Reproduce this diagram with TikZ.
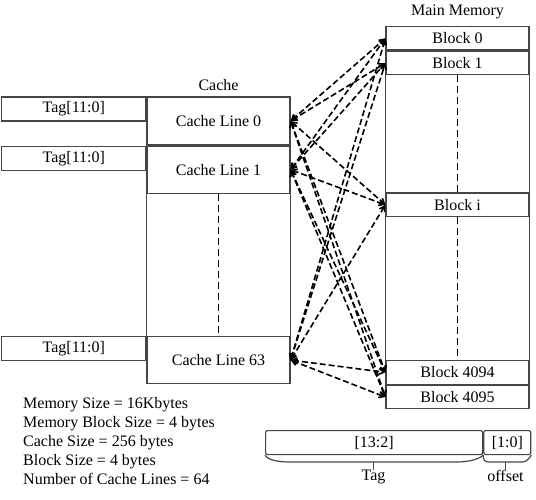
\documentclass[tikz,border=0pt]{standalone}
\usepackage{fontspec}
\setmainfont{Liberation Serif}
\usetikzlibrary{arrows.meta,positioning}
\definecolor{BoxGray}{RGB}{70,70,70}

\begin{document}
\begin{tikzpicture}[
  x=1pt, y=-1pt,
  node distance=0pt,
  cline/.style={rectangle, draw=BoxGray, line width=1.2pt, minimum width=143pt, minimum height=47pt,
                font=\fontsize{16}{18}\selectfont, inner sep=0pt},
  tagbox/.style={rectangle, draw=BoxGray, line width=1.2pt, minimum width=144pt, minimum height=24pt,
                 font=\fontsize{16}{18}\selectfont, inner sep=0pt},
  block/.style={rectangle, draw=BoxGray, line width=1.2pt, minimum width=143pt, minimum height=23.5pt,
                font=\fontsize{16}{18}\selectfont, inner sep=0pt},
  field/.style={rectangle, draw=BoxGray, line width=1.2pt, minimum height=24pt,
                rounded corners=2pt, font=\fontsize{16}{18}\selectfont, inner sep=0pt},
  title/.style={font=\fontsize{16}{18}\selectfont, inner sep=0pt},
  map/.style={{Straight Barb[length=5pt,width=6pt]}-{Straight Barb[length=5pt,width=6pt]},
              dashed, dash pattern=on 6pt off 3pt, line width=1.6pt, black},
  gap/.style={dashed, dash pattern=on 7pt off 4pt, line width=0.8pt, black}
]
\useasboundingbox (0,0) rectangle (536,500);

% cache
\node[title] (cachetitle) at (218.5,85) {Cache};
\node[cline, minimum height=48pt] (line0) at (218.5,121) {Cache Line 0};
\node[cline, below=of line0] (line1) {Cache Line 1};
\node[cline, anchor=north] (line63) at (218.5,336) {Cache Line 63};
\draw[BoxGray, line width=1.2pt] (line1.south west) -- (line63.north west);
\draw[BoxGray, line width=1.2pt] (line1.south east) -- (line63.north east);
\draw[gap] (line1.south) -- (line63.north);

% tags
\node[tagbox, anchor=north east] (tag0) at (line0.north west) {Tag[11:0]};
\node[tagbox, anchor=north east] (tag1) at (line1.north west) {Tag[11:0]};
\node[tagbox, anchor=north east] (tag63) at (line63.north west) {Tag[11:0]};

% main memory
\node[title] (memtitle) at (457.5,12) {Main Memory};
\node[block, anchor=north] (blk0) at (457.5,26) {Block 0};
\node[block, below=of blk0] (blk1) {Block 1};
\node[block, anchor=north] (blki) at (457.5,192.5) {Block i};
\node[block, anchor=north] (blk4094) at (457.5,360) {Block 4094};
\node[block, below=of blk4094] (blk4095) {Block 4095};
\draw[BoxGray, line width=1.2pt] (blk1.south west) -- (blki.north west);
\draw[BoxGray, line width=1.2pt] (blk1.south east) -- (blki.north east);
\draw[BoxGray, line width=1.2pt] (blki.south west) -- (blk4094.north west);
\draw[BoxGray, line width=1.2pt] (blki.south east) -- (blk4094.north east);
\draw[gap] (blk1.south) -- (blki.north);
\draw[gap] (blki.south) -- (blk4094.north);

% mapping
\foreach \c in {line0,line1,line63}
  \foreach \b in {blk0,blk1,blki,blk4094,blk4095}
    \draw[map] (\c.east) -- (\b.west);

% notes
\node[anchor=north west, align=left, inner sep=0pt, font=\fontsize{16}{19}\selectfont] (notes) at (23,397)
  {Memory Size = 16Kbytes\\Memory Block Size = 4 bytes\\Cache Size = 256 bytes\\Block Size = 4 bytes\\Number of Cache Lines = 64};

% address
\node[field, minimum width=217pt, anchor=north west] (tagfield) at (265,430) {[13:2]};
\node[field, minimum width=47pt, anchor=north west] (offfield) at (tagfield.north east) {[1:0]};
\draw[BoxGray, line width=1.2pt] (tagfield.south west) .. controls (268,460) and (278,462) .. (290,462)
  -- (456,462) .. controls (470,462) and (479,459) .. (tagfield.south east);
\draw[BoxGray, line width=1.2pt] (offfield.south west) .. controls (483,460) and (485,462) .. (489,462)
  -- (522,462) .. controls (526,462) and (528,460) .. (offfield.south east);
\node[title, anchor=north] (taglabel) at (373.5,470) {Tag};
\node[title, anchor=north] (offlabel) at (505.5,470) {offset};
\draw[BoxGray, line width=1pt] (373.5,462) -- (taglabel.north);
\draw[BoxGray, line width=1pt] (505.5,462) -- (offlabel.north);
\end{tikzpicture}
\end{document}
